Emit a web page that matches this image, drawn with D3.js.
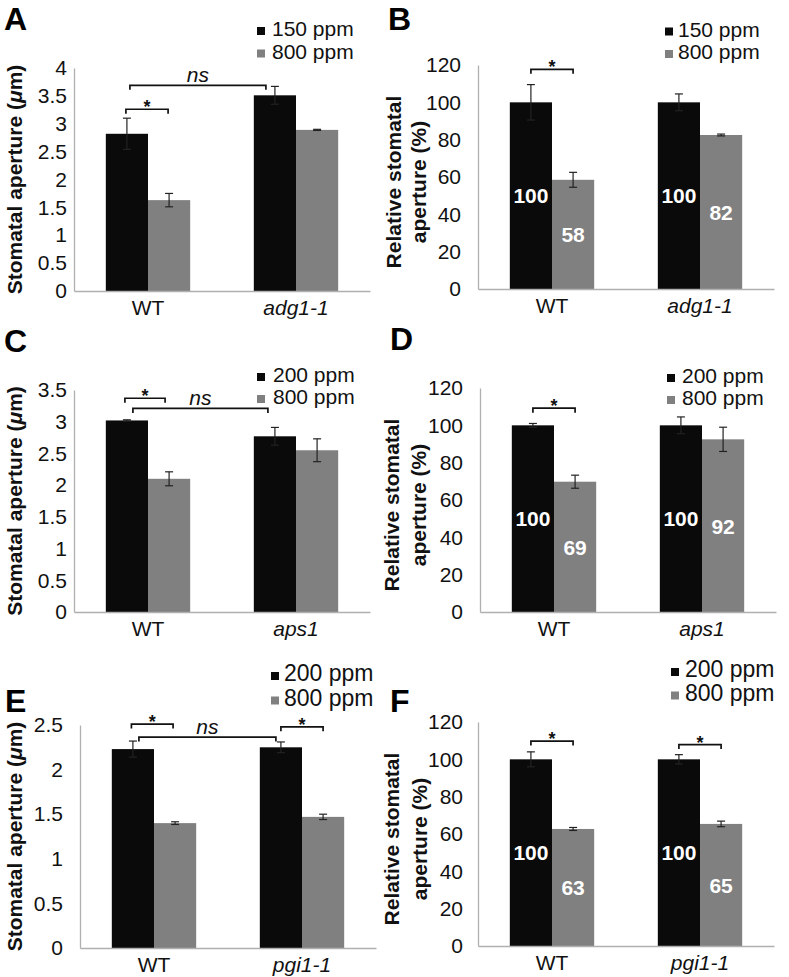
<!DOCTYPE html>
<html>
<head>
<meta charset="utf-8">
<script src="https://cdn.jsdelivr.net/npm/d3@7"></script>
<style>
  body { margin: 0; background: #fff; }
  svg text { font-family: "Liberation Sans", Arial, Helvetica, sans-serif; }
</style>
</head>
<body>
<div id="chart"></div>
<script>
const width = 789;
const height = 977;

// A - absolute aperture, adg1-1
const groupsA = ['WT', 'adg1-1'];
const seriesA = ['150 ppm', '800 ppm'];
const lowA = [2.82, 3.51];
const lowErrA = [0.28, 0.16];
const highA = [1.63, 2.89];
const highErrA = [0.12, 0.01];
const ticksA = [0, 0.5, 1, 1.5, 2, 2.5, 3, 3.5, 4];

// B - relative, adg1-1
const groupsB = ['WT', 'adg1-1'];
const seriesB = ['150 ppm', '800 ppm'];
const lowB = [100, 100];
const lowErrB = [9.5, 4.5];
const highB = [58.5, 82.5];
const highErrB = [4, 0.5];
const lowLabelsB = [100, 100];
const highLabelsB = [58, 82];
const ticksB = [0, 20, 40, 60, 80, 100, 120];

// C - absolute aperture, aps1
const groupsC = ['WT', 'aps1'];
const seriesC = ['200 ppm', '800 ppm'];
const lowC = [3.02, 2.77];
const lowErrC = [0.01, 0.14];
const highC = [2.10, 2.55];
const highErrC = [0.11, 0.18];
const ticksC = [0, 0.5, 1, 1.5, 2, 2.5, 3, 3.5];

// D - relative, aps1
const groupsD = ['WT', 'aps1'];
const seriesD = ['200 ppm', '800 ppm'];
const lowD = [100, 100];
const lowErrD = [1, 4.5];
const highD = [69.8, 92.5];
const highErrD = [3.5, 6.5];
const lowLabelsD = [100, 100];
const highLabelsD = [69, 92];
const ticksD = [0, 20, 40, 60, 80, 100, 120];

// E - absolute aperture, pgi1-1
const groupsE = ['WT', 'pgi1-1'];
const seriesE = ['200 ppm', '800 ppm'];
const lowE = [2.23, 2.25];
const lowErrE = [0.09, 0.06];
const highE = [1.40, 1.47];
const highErrE = [0.015, 0.03];
const ticksE = [0, 0.5, 1, 1.5, 2, 2.5];

// F - relative, pgi1-1
const groupsF = ['WT', 'pgi1-1'];
const seriesF = ['200 ppm', '800 ppm'];
const lowF = [100, 100];
const lowErrF = [4, 2.5];
const highF = [62.7, 65.4];
const highErrF = [0.8, 1.5];
const lowLabelsF = [100, 100];
const highLabelsF = [63, 65];
const ticksF = [0, 20, 40, 60, 80, 100, 120];

const colors = ['#0a0a0a', '#808080'];
const plotW = 296;

const svg = d3.select('#chart')
    .append('svg')
    .attr('width', width)
    .attr('height', height);

const panels = [
    { letter: 'A', letterPos: [4, 30], left: 74, top: 68, plotH: 223, yMax: 4, tickPad: 7,
      groups: groupsA, series: seriesA, values: [lowA, highA], errors: [lowErrA, highErrA], ticks: ticksA,
      ylab: 'abs', ylabX: [22],
      legend: { sq: 257, tx: 272, y: 36, gap: 22.5, size: 21 },
      brackets: [
          { g1: 0, s1: 0, g2: 0, s2: 1, at: 3.26, dx1: -1, dx2: -1, label: '*' },
          { g1: 0, s1: 0, g2: 1, s2: 0, at: 3.69, dx1: 3, dx2: -9, label: 'ns' }
      ] },
    { letter: 'B', letterPos: [388, 30], left: 478, top: 65, plotH: 224, yMax: 120, tickPad: 17,
      groups: groupsB, series: seriesB, values: [lowB, highB], errors: [lowErrB, highErrB], ticks: ticksB,
      labels: [lowLabelsB, highLabelsB],
      ylab: 'rel', ylabX: [401, 426],
      legend: { sq: 665, tx: 678, y: 36.5, gap: 22.5, size: 21 },
      brackets: [
          { g1: 0, s1: 0, g2: 0, s2: 1, at: 117.7, dx1: 0, dx2: 0, label: '*' }
      ] },
    { letter: 'C', letterPos: [4, 352], left: 74, top: 390, plotH: 222, yMax: 3.5, tickPad: 7,
      groups: groupsC, series: seriesC, values: [lowC, highC], errors: [lowErrC, highErrC], ticks: ticksC,
      ylab: 'abs', ylabX: [22],
      legend: { sq: 257, tx: 273, y: 382, gap: 22, size: 21 },
      brackets: [
          { g1: 0, s1: 0, g2: 0, s2: 1, at: 3.37, dx1: -2, dx2: -4, label: '*' },
          { g1: 0, s1: 0, g2: 1, s2: 0, at: 3.21, dx1: 6, dx2: -7, label: 'ns' }
      ] },
    { letter: 'D', letterPos: [390, 350], left: 480, top: 388, plotH: 224, yMax: 120, tickPad: 17,
      groups: groupsD, series: seriesD, values: [lowD, highD], errors: [lowErrD, highErrD], ticks: ticksD,
      labels: [lowLabelsD, highLabelsD],
      ylab: 'rel', ylabX: [399, 426],
      legend: { sq: 667, tx: 682, y: 383, gap: 22, size: 21 },
      brackets: [
          { g1: 0, s1: 0, g2: 0, s2: 1, at: 109.2, dx1: 0, dx2: 0, label: '*' }
      ] },
    { letter: 'E', letterPos: [5, 712], left: 80, top: 725, plotH: 223, yMax: 2.5, tickPad: 17,
      groups: groupsE, series: seriesE, values: [lowE, highE], errors: [lowErrE, highErrE], ticks: ticksE,
      ylab: 'abs', ylabX: [22],
      legend: { sq: 271, tx: 284, y: 681, gap: 24.5, size: 23 },
      brackets: [
          { g1: 0, s1: 0, g2: 0, s2: 1, at: 2.51, dx1: -1.5, dx2: -2, label: '*' },
          { g1: 0, s1: 0, g2: 1, s2: 0, at: 2.365, dx1: 6, dx2: -5, label: 'ns' },
          { g1: 1, s1: 0, g2: 1, s2: 1, at: 2.48, dx1: 0, dx2: 0, label: '*' }
      ] },
    { letter: 'F', letterPos: [390, 712], left: 478, top: 722, plotH: 224, yMax: 120, tickPad: 15,
      groups: groupsF, series: seriesF, values: [lowF, highF], errors: [lowErrF, highErrF], ticks: ticksF,
      labels: [lowLabelsF, highLabelsF],
      ylab: 'rel', ylabX: [399, 427],
      legend: { sq: 671, tx: 685, y: 677, gap: 23.5, size: 23 },
      brackets: [
          { g1: 0, s1: 0, g2: 0, s2: 1, at: 109.8, dx1: 0, dx2: 0, label: '*' },
          { g1: 1, s1: 0, g2: 1, s2: 1, at: 107.9, dx1: 0, dx2: 0, label: '*' }
      ] }
];

const drawPanel = (p) => {
    const g = svg.append('g')
        .attr('transform', `translate(${p.left}, ${p.top})`);

    const y = d3.scaleLinear()
        .domain([0, p.yMax])
        .range([p.plotH, 0]);

    const x0 = d3.scaleBand()
        .domain(p.groups)
        .range([0, plotW])
        .paddingInner(0.43)
        .paddingOuter(0.215);

    const x1 = d3.scaleBand()
        .domain(p.series.map((s, i) => i))
        .range([0, x0.bandwidth()]);

    const barCenter = (gi, si) => x0(p.groups[gi]) + x1(si) + x1.bandwidth() / 2;

    const bars = [];
    p.groups.forEach((grp, gi) => {
        p.series.forEach((s, si) => {
            bars.push({
                gi, si,
                v: p.values[si][gi],
                e: p.errors[si][gi],
                label: p.labels ? p.labels[si][gi] : null
            });
        });
    });

    g.selectAll('rect.bar')
        .data(bars)
        .enter()
        .append('rect')
        .attr('class', 'bar')
        .attr('x', d => x0(p.groups[d.gi]) + x1(d.si))
        .attr('width', x1.bandwidth())
        .attr('y', d => y(d.v))
        .attr('height', d => p.plotH - y(d.v))
        .attr('fill', d => colors[d.si]);

    // error bars
    const err = g.selectAll('g.err')
        .data(bars)
        .enter()
        .append('g')
        .attr('class', 'err')
        .attr('stroke', '#222')
        .attr('stroke-width', 1.2);
    err.append('line')
        .attr('x1', d => barCenter(d.gi, d.si))
        .attr('x2', d => barCenter(d.gi, d.si))
        .attr('y1', d => y(d.v - d.e))
        .attr('y2', d => y(d.v + d.e));
    err.append('line')
        .attr('x1', d => barCenter(d.gi, d.si) - 4)
        .attr('x2', d => barCenter(d.gi, d.si) + 4)
        .attr('y1', d => y(d.v + d.e))
        .attr('y2', d => y(d.v + d.e));
    err.append('line')
        .attr('x1', d => barCenter(d.gi, d.si) - 4)
        .attr('x2', d => barCenter(d.gi, d.si) + 4)
        .attr('y1', d => y(d.v - d.e))
        .attr('y2', d => y(d.v - d.e));

    // value labels inside bars
    if (p.labels) {
        g.selectAll('text.val')
            .data(bars)
            .enter()
            .append('text')
            .attr('class', 'val')
            .attr('x', d => barCenter(d.gi, d.si))
            .attr('y', d => y(d.label / 2))
            .attr('dy', '0.36em')
            .attr('text-anchor', 'middle')
            .attr('fill', '#fff')
            .style('font-weight', 'bold')
            .style('font-size', '21px')
            .text(d => d.label);
    }

    // axes
    const yAxis = d3.axisLeft(y)
        .tickValues(p.ticks)
        .tickFormat(d => d)
        .tickSize(0)
        .tickPadding(p.tickPad);
    const gy = g.append('g').call(yAxis);
    gy.select('.domain').attr('stroke', '#b0b0b0').attr('stroke-width', 1.3);
    gy.selectAll('text')
        .style('font-size', '21px')
        .attr('fill', '#111');

    const xAxis = d3.axisBottom(x0)
        .tickSize(0)
        .tickPadding(9);
    const gx = g.append('g')
        .attr('transform', `translate(0, ${p.plotH})`)
        .call(xAxis);
    gx.select('.domain').attr('stroke', '#b0b0b0').attr('stroke-width', 1.3);
    gx.selectAll('text')
        .style('font-size', '21px')
        .style('font-style', d => d === 'WT' ? 'normal' : 'italic')
        .attr('fill', '#111');

    // significance brackets
    p.brackets.forEach(b => {
        const xa = barCenter(b.g1, b.s1) + b.dx1;
        const xb = barCenter(b.g2, b.s2) + b.dx2;
        const yb = y(b.at);
        g.append('path')
            .attr('d', `M${xa},${yb + 4.5}V${yb}H${xb}V${yb + 4.5}`)
            .attr('fill', 'none')
            .attr('stroke', '#111')
            .attr('stroke-width', 1.7);
        const t = g.append('text')
            .attr('x', (xa + xb) / 2)
            .attr('text-anchor', 'middle')
            .attr('fill', '#111');
        if (b.label === 'ns') {
            t.attr('y', yb - 3.5)
                .style('font-size', '21px')
                .style('font-style', 'italic')
                .text('ns');
        } else {
            t.attr('y', yb + 4)
                .style('font-size', '18px')
                .style('font-weight', 'bold')
                .text('*');
        }
    });

    // legend
    p.series.forEach((s, i) => {
        const by = p.legend.y + i * p.legend.gap;
        svg.append('rect')
            .attr('x', p.legend.sq)
            .attr('y', by - 9)
            .attr('width', 8)
            .attr('height', 8)
            .attr('fill', colors[i]);
        svg.append('text')
            .attr('x', p.legend.tx)
            .attr('y', by)
            .attr('fill', '#111')
            .style('font-size', p.legend.size + 'px')
            .text(s);
    });

    // y axis title
    const cy = p.top + p.plotH / 2 + (p.ylab === 'rel' ? 5 : 0);
    if (p.ylab === 'abs') {
        const t = svg.append('text')
            .attr('transform', `translate(${p.ylabX[0]}, ${cy}) rotate(-90)`)
            .attr('text-anchor', 'middle')
            .attr('fill', '#111')
            .style('font-weight', 'bold')
            .style('font-size', '21px');
        t.append('tspan').text('Stomatal aperture (');
        t.append('tspan').style('font-style', 'italic').text('μ');
        t.append('tspan').text('m)');
    } else {
        ['Relative stomatal', 'aperture (%)'].forEach((line, i) => {
            svg.append('text')
                .attr('transform', `translate(${p.ylabX[i]}, ${cy}) rotate(-90)`)
                .attr('text-anchor', 'middle')
                .attr('fill', '#111')
                .style('font-weight', 'bold')
                .style('font-size', '21px')
                .text(line);
        });
    }

    // panel letter
    svg.append('text')
        .attr('x', p.letterPos[0])
        .attr('y', p.letterPos[1])
        .attr('fill', '#000')
        .style('font-weight', 'bold')
        .style('font-size', '32px')
        .text(p.letter);
};

panels.forEach(drawPanel);
</script>
</body>
</html>
